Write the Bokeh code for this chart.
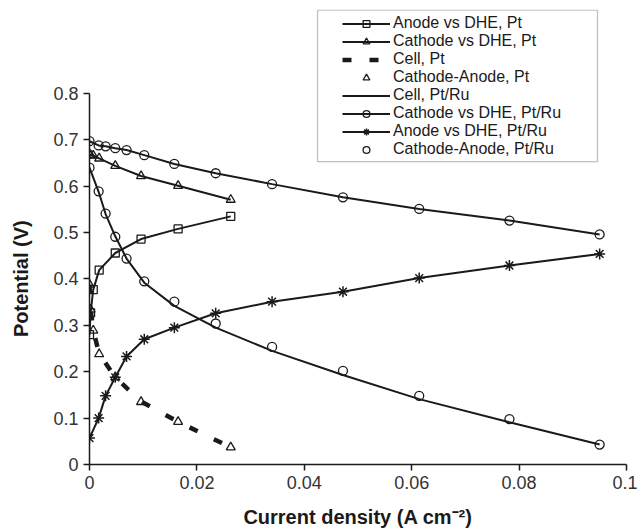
from bokeh.plotting import figure
from bokeh.models import (Range1d, Legend, LegendItem, BoxAnnotation,
                          FixedTicker, NumeralTickFormatter)
from bokeh.embed import file_html
from bokeh.resources import INLINE

# ---- data ----
j_pt = [0, 0.0002, 0.0007, 0.0018, 0.0048, 0.0096, 0.0165, 0.0263]
anode_pt = [0.280, 0.327, 0.377, 0.419, 0.456, 0.486, 0.508, 0.535]
cathode_pt = [0.668, 0.667, 0.666, 0.660, 0.644, 0.622, 0.601, 0.571]
cell_pt = [0.388, 0.336, 0.289, 0.239, 0.188, 0.136, 0.092, 0.037]
cath_an_pt = [0.388, 0.334, 0.289, 0.238, 0.188, 0.135, 0.092, 0.037]

j_ptru = [0, 0.0017, 0.003, 0.0048, 0.0069, 0.0102, 0.0158, 0.0235,
          0.034, 0.0472, 0.0614, 0.0782, 0.095]
cathode_ptru = [0.697, 0.688, 0.686, 0.682, 0.678, 0.667, 0.648, 0.628,
                0.6045, 0.576, 0.551, 0.526, 0.496]
anode_ptru = [0.057, 0.100, 0.148, 0.188, 0.233, 0.270, 0.295, 0.326,
              0.351, 0.3725, 0.402, 0.429, 0.454]
cath_an_ptru = [0.640, 0.589, 0.541, 0.491, 0.444, 0.395, 0.351, 0.304,
                0.2535, 0.202, 0.148, 0.098, 0.043]
cell_ptru = [0.640, 0.588, 0.540, 0.492, 0.444, 0.392, 0.342, 0.295,
             0.245, 0.193, 0.141, 0.091, 0.043]

x_ticks = [0, 0.02, 0.04, 0.06, 0.08, 0.1]
y_ticks = [0, 0.1, 0.2, 0.3, 0.4, 0.5, 0.6, 0.7, 0.8]

FONT = "Liberation Sans"
INK = "#1a1a1a"
NBSP = "\u00a0"

p = figure(width=637, height=530, output_backend="svg", toolbar_location=None,
           x_range=Range1d(0, 0.1), y_range=Range1d(0, 0.981),
           min_border_left=89, min_border_right=11, min_border_top=9,
           min_border_bottom=64)
p.outline_line_color = None
p.grid.visible = False
p.background_fill_color = "white"

for ax, ticks, fmt, bnds in ((p.xaxis[0], x_ticks, "0.[00]", (0, 0.1)),
                             (p.yaxis[0], y_ticks, "0.[0]", (0, 0.8))):
    ax.ticker = FixedTicker(ticks=ticks, minor_ticks=[])
    ax.formatter = NumeralTickFormatter(format=fmt)
    ax.bounds = bnds
    ax.axis_line_color = INK
    ax.axis_line_width = 1.5
    ax.major_tick_line_color = INK
    ax.major_tick_line_width = 1.5
    ax.major_tick_out = 6
    ax.major_tick_in = 0
    ax.minor_tick_line_color = None
    ax.major_label_text_font = FONT
    ax.major_label_text_font_size = "18px"
    ax.major_label_text_color = "#333333"
    ax.major_label_standoff = 5
    ax.axis_label_text_font = FONT
    ax.axis_label_text_font_size = "20px"
    ax.axis_label_text_font_style = "bold"
    ax.axis_label_text_color = INK

p.xaxis.axis_label = "Current density (A cm\u207b\u00b2)"
p.xaxis.axis_label_standoff = 14
# trailing no-break spaces shift the rotated label down to the 0-0.8 span centre
p.yaxis.axis_label = "Potential (V)" + NBSP * 15
p.yaxis.axis_label_standoff = 18

# ---- series ----
lw = 2
l_an_pt = p.line(j_pt, anode_pt, line_color=INK, line_width=lw)
s_an_pt = p.scatter(j_pt, anode_pt, marker="square", size=8, line_color=INK,
                    line_width=1.3, fill_alpha=0)
l_ca_pt = p.line(j_pt, cathode_pt, line_color=INK, line_width=lw)
s_ca_pt = p.scatter(j_pt, cathode_pt, marker="triangle", size=9, line_color=INK,
                    line_width=1.3, fill_alpha=0)
l_cell_pt = p.line(j_pt, cell_pt, line_color=INK, line_width=4.5, line_dash="9 18")
s_cmina_pt = p.scatter(j_pt, cath_an_pt, marker="triangle", size=9, line_color=INK,
                       line_width=1.3, fill_alpha=0)

l_cell_ptru = p.line(j_ptru, cell_ptru, line_color=INK, line_width=lw)
l_ca_ptru = p.line(j_ptru, cathode_ptru, line_color=INK, line_width=lw)
s_ca_ptru = p.scatter(j_ptru, cathode_ptru, marker="circle", size=9, line_color=INK,
                      line_width=1.3, fill_alpha=0)
l_an_ptru = p.line(j_ptru, anode_ptru, line_color=INK, line_width=lw)
s_an_ptru = p.scatter(j_ptru, anode_ptru, marker="asterisk", size=11, line_color=INK,
                      line_width=1.5)
s_cmina_ptru = p.scatter(j_ptru, cath_an_ptru, marker="circle", size=9, line_color=INK,
                         line_width=1.3, fill_alpha=0)

# ---- legend ----
items = [
    LegendItem(label="Anode vs DHE, Pt", renderers=[l_an_pt, s_an_pt]),
    LegendItem(label="Cathode vs DHE, Pt", renderers=[l_ca_pt, s_ca_pt]),
    LegendItem(label="Cell, Pt", renderers=[l_cell_pt]),
    LegendItem(label="Cathode-Anode, Pt", renderers=[s_cmina_pt]),
    LegendItem(label="Cell, Pt/Ru", renderers=[l_cell_ptru]),
    LegendItem(label="Cathode vs DHE, Pt/Ru", renderers=[l_ca_ptru, s_ca_ptru]),
    LegendItem(label="Anode vs DHE, Pt/Ru", renderers=[l_an_ptru, s_an_ptru]),
    LegendItem(label="Cathode-Anode, Pt/Ru", renderers=[s_cmina_ptru]),
]
legend = Legend(items=items, location=(253, 306), padding=0, spacing=0, margin=0,
                glyph_width=48, glyph_height=17, label_height=17,
                label_standoff=3, label_text_font=FONT,
                label_text_font_size="16px", label_text_color=INK,
                border_line_alpha=0, background_fill_alpha=0)
p.add_layout(legend, "center")

p.add_layout(BoxAnnotation(left=0.04246, right=0.0946, bottom=0.653, top=0.9796,
                           fill_alpha=0, line_color="#333333", line_width=1.3))

open("out.html", "w").write(file_html(p, INLINE))
